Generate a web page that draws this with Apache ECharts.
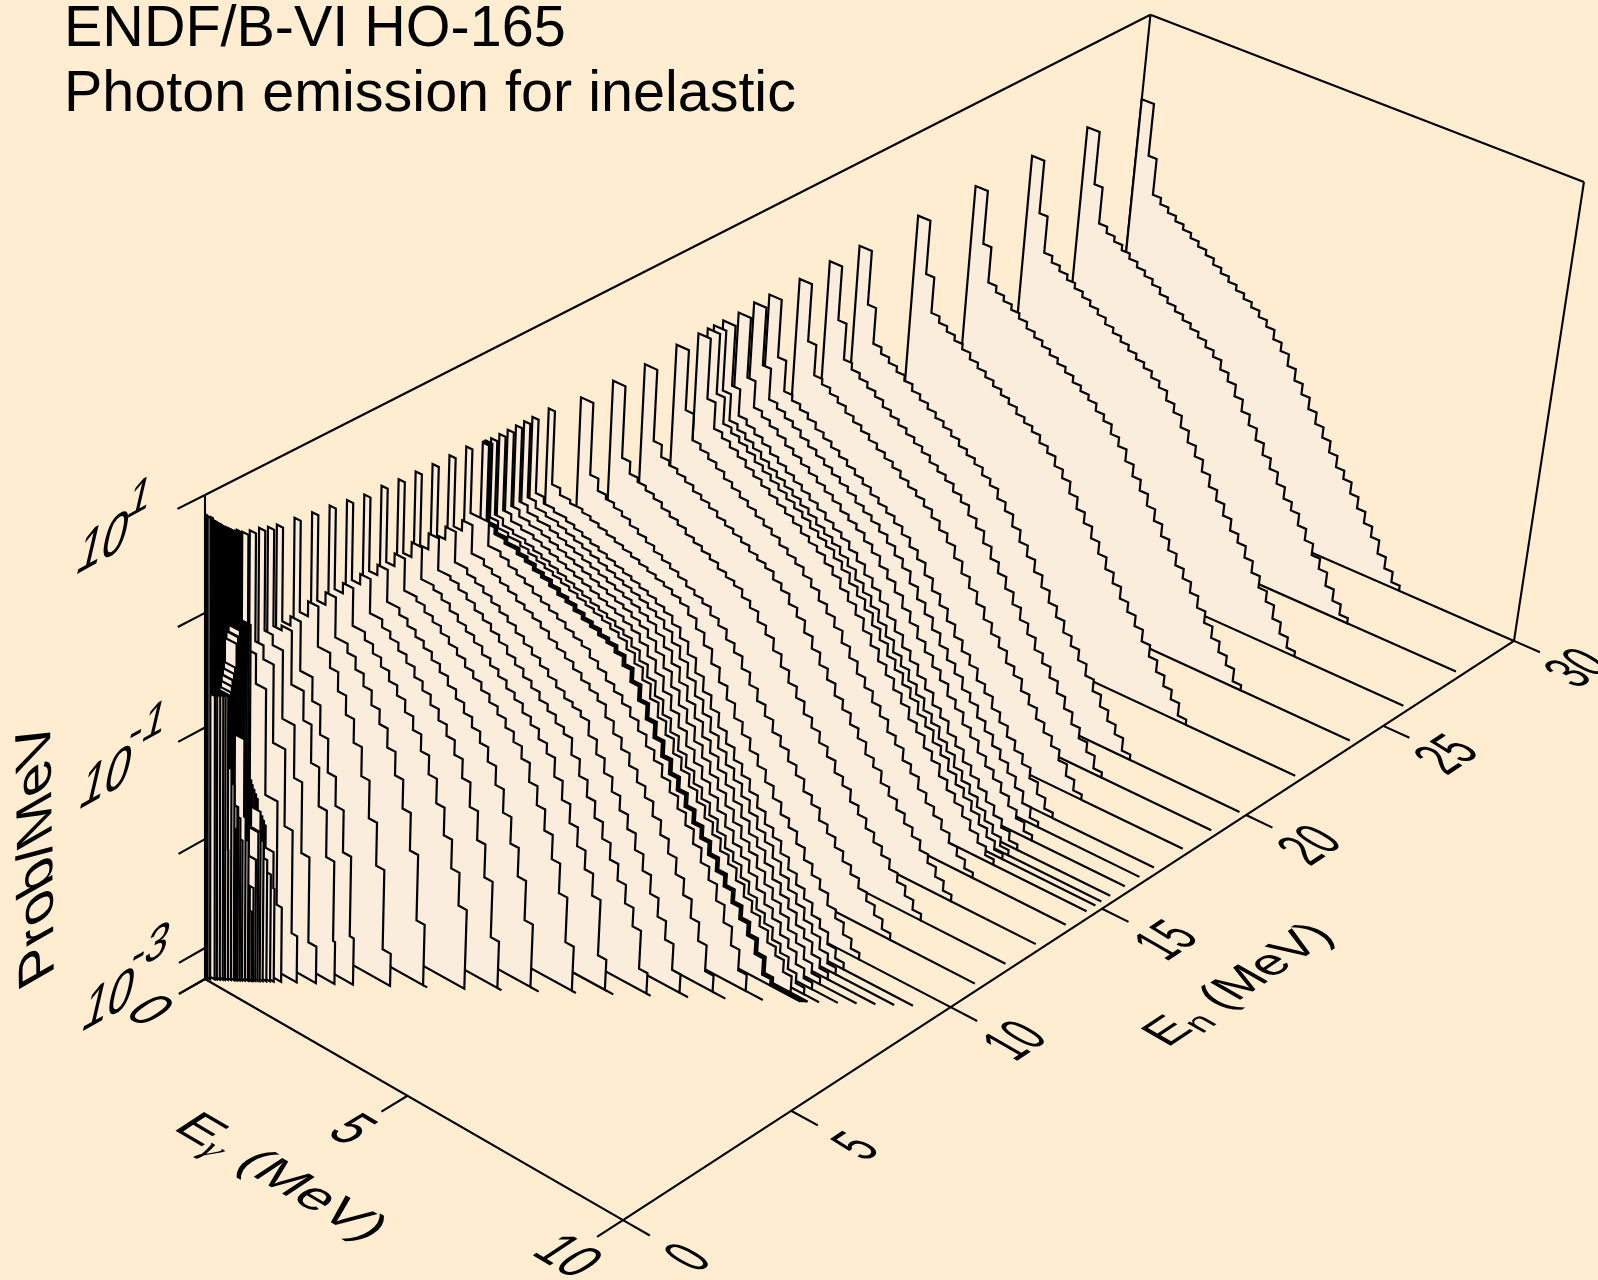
<!DOCTYPE html>
<html><head><meta charset="utf-8">
<style>html,body{margin:0;padding:0;background:#FFEDD1}#c{width:1598px;height:1280px}</style>
<script src="https://cdn.jsdelivr.net/npm/echarts@6/dist/echarts.min.js"></script>
</head><body><div id="c"></div>
<script>
// Photon energy bin edges (MeV): above about 10 MeV, and at or below it, and below 1 MeV
const binEdges=[0,.3,.5,.7,.9,1.1,1.3,1.5,1.7,1.9,2.1,2.3,2.5,2.7,2.9,3.1,3.3,3.5,3.7,3.9,4.1,4.3,4.5,4.7,4.9,5.1,5.3,5.5,5.7,5.9,6.1,6.3,6.5,6.7,6.9,7.1,7.3,7.5,7.7,7.9];
const midEdges=[0,.15,.35,.6,.9,1.1,1.3,1.5,1.7,1.9,2.1,2.3,2.5,2.7,2.9,3.1,3.3,3.5,3.7,3.9,4.1,4.3,4.5,4.7,4.9,5.1,5.3,5.5,5.7,5.9,6.1,6.3,6.5,6.7,6.9,7.1,7.3,7.5,7.7,7.9];
const lowEdges=[0,.05,.3,.5,.7,.9,1.1];
// log10(Prob/MeV) x 100, read bin by bin
const s30=[26,-23,-57,-63,-68,-73,-78,-83,-88,-93,-99,-104,-109,-114,-119,-124,-130,-136,-145,-153,-164,-175,-185,-196,-207,-217,-228,-239,-247,-258,-269,-280,-290,-303,-314,-324];
const s22=[25,-24,-57,-63,-68,-73,-78,-84,-89,-94,-99,-104,-109,-115,-120,-125,-132,-138,-147,-155,-166,-177,-187,-198,-209,-220,-230,-241,-250,-260,-271,-282,-293,-303,-312,-324];
const s18=[23,-29,-57,-62,-67,-72,-78,-83,-88,-93,-98,-103,-108,-114,-119,-124,-130,-137,-145,-153,-164,-175,-185,-196,-207,-217,-226,-237,-245,-256,-265,-275,-284,-293,-303,-314,-324];
const s15=[21,-33,-57,-62,-67,-72,-78,-83,-88,-93,-98,-103,-108,-114,-119,-124,-131,-138,-147,-155,-164,-175,-185,-196,-205,-215,-224,-235,-243,-254,-262,-273,-282,-290,-299,-308,-316,-324];
const s12=[18,-46,-57,-61,-65,-69,-74,-78,-82,-87,-91,-95,-99,-104,-108,-112,-119,-125,-134,-142,-153,-164,-175,-185,-196,-205,-215,-224,-235,-243,-254,-262,-271,-280,-288,-297,-305,-314,-323];
const s9=[23,-42,-48,-51,-54,-57,-60,-63,-66,-69,-72,-75,-78,-81,-84,-88,-92,-99,-108,-119,-132,-145,-157,-170,-181,-192,-202,-213,-224,-235,-243,-254,-265,-275,-284,-295,-303,-314,-323];
const s8=[23,-46,-52,-56,-60,-63,-67,-70,-74,-78,-81,-85,-89,-92,-96,-99,-104,-112,-123,-136,-149,-162,-175,-187,-198,-209,-220,-230,-241,-252,-262,-273,-284,-295,-308,-323];
const e75=[27,-29,-29,-50,-54,-59,-63,-67,-72,-76,-80,-84,-89,-93,-97,-104,-110,-117,-123,-130,-138,-147,-157,-166,-177,-187,-198,-209,-222,-235,-247,-262,-278,-295,-314];
const e70=[27,-33,-24,-49,-54,-58,-62,-66,-71,-75,-79,-84,-90,-95,-100,-106,-112,-117,-123,-134,-145,-155,-166,-177,-187,-200,-213,-226,-241,-256,-273,-290,-314];
const e65=[27,-33,-22,-49,-54,-58,-63,-68,-73,-78,-84,-90,-96,-102,-108,-114,-120,-124,-129,-142,-155,-168,-181,-194,-207,-222,-237,-254,-271,-288,-312];
const e60=[28,-34,-20,-48,-51,-56,-61,-67,-72,-78,-84,-91,-97,-104,-110,-117,-123,-130,-136,-151,-166,-181,-196,-211,-226,-241,-258,-275,-310];
const e55=[29,-33,-20,-48,-52,-57,-63,-69,-74,-80,-87,-93,-99,-106,-112,-120,-127,-136,-145,-162,-179,-196,-213,-230,-250,-301];
const e50=[31,-33,-22,-50,-54,-60,-65,-71,-77,-83,-90,-96,-103,-110,-117,-125,-134,-145,-162,-179,-198,-220,-247,-288];
const e45=[31,-33,-24,-52,-58,-64,-70,-76,-83,-90,-98,-106,-115,-124,-134,-147,-164,-185,-209,-235,-271];
const e40=[34,-33,-24,-54,-61,-67,-74,-81,-90,-98,-107,-117,-127,-140,-157,-179,-205,-235,-286];
const e35=[37,-33,-24,-57,-64,-72,-80,-89,-98,-109,-121,-136,-153,-175,-200,-226,-256];
const e30=[39,-35,-24,-59,-67,-78,-89,-102,-115,-132,-153,-179,-213,-273];
const e25=[42,-37,-24,-59,-72,-89,-106,-127,-153,-187,-226,-299];
const e20=[44,-37,-29,-72,-93,-119,-149,-175,-213,-286];
const e175=[46,-37,-33,-80,-106,-140,-175,-217,-290];
const e15=[49,-37,-46,-106,-153,-217,-295];
const e124=[51,-42,-54,-123,-192,-286];
const e103=[53,-46,-72,-166,-260];
// [neutron energy (MeV), values, number of bins, edges]
const curves=[
[30,s30,36],[28,s30,36],[26,s30,36],[24,s22,36],[22,s22,36],[20,s22,36],[19,s22,36],
[18,s18,37],[17,s18,37],[16.5,s18,37],[16,s15,38],[15.5,s15,38],[15.2,s15,38],[15,s15,38],[14.7,s15,38],[14,s15,38],
[13,s12,39],[12,s12,39],[11,s12,39],[10,s9,39,midEdges],[9.5,s9,39,midEdges],[9.25,s9,39,midEdges],[9,s9,39,midEdges],[8.75,s9,39,midEdges],[8.5,s9,39,midEdges],[8.25,s9,39,midEdges],[8.1,s9,38,midEdges],
[8.08,s8,36,midEdges],[8.06,s8,36,midEdges],[8.04,s8,36,midEdges],[8.02,s8,36,midEdges],[8,s8,36,midEdges],
[7.5,e75,35,midEdges],[7,e70,33,midEdges],[6.5,e65,31,midEdges],[6,e60,29,midEdges],[5.5,e55,26,midEdges],[5,e50,24,midEdges],[4.5,e45,21,midEdges],[4,e40,19,midEdges],[3.5,e35,17,midEdges],[3,e30,14,midEdges],[2.5,e25,12,midEdges],[2,e20,10,midEdges],[1.75,e175,9,midEdges],[1.5,e15,7,midEdges],[1.24,e124,6,midEdges],[1.03,e103,5,midEdges],
[.93,[55,-20,-170,-190,-210,-243],6,lowEdges],[.88,[57,-20,-165,-185,-230],5,lowEdges],[.83,[57,-20,-160,-180,-217],5,lowEdges],[.78,[57,-20,-155,-175,-200],5,lowEdges],
[.74,[59,-20,-150,-192],4,lowEdges],[.71,[59,-20,-150,-192],4,lowEdges],[.68,[61,-20,-145,-217],4,lowEdges],[.65,[61,-20,-140,-243],4,lowEdges],[.63,[61,-20,-135,-265],4,lowEdges],[.6,[62,-25,-130,-243],4,lowEdges],[.58,[64,-25,-120,-200],4,lowEdges],[.54,[64,-30,-110,-179],4,lowEdges],
[.5,[66,-50,-200],3,lowEdges],[.47,[66,-55,-180],3,lowEdges],[.44,[68,-60,-170],3,lowEdges],[.43,[68,-60,-170],3,lowEdges],[.41,[68,-65,-190],3,lowEdges],[.39,[70,-70,-150],3,lowEdges],[.35,[70,-72,-136],3,lowEdges],[.31,[72,-72,-209],3,lowEdges],
[.27,[74,-72],2,lowEdges],[.24,[74,-72],2,lowEdges],[.2,[76,-72],2,lowEdges],[.16,[79,-72],2,lowEdges],[.13,[79,-72],2,lowEdges],[.07,[81],1,[0,.07]],[.03,[83],1,[0,.03]]
];
const enTicks=[0,5,10,15,20,25,30];
const egTicks=[0,5,10];
const probTicks=[-3,-2,-1,0,1];
const probTickLabels=[['10','-3',-3],['10','-1',-1],['10','1',1]];

const logMin=-3.29, logMax=1, egMax=10, enMax=30;
function project(eg,en,lg){
  const u=eg/egMax,v=en/enMax,t=(lg-logMin)/(logMax-logMin);
  const w=1-.0607*u+.1529*v-.0554*t;
  return [(205+380.2*u+1068.4*v-11.36*t)/w,(979+167*u-446*v-511.4*t)/w];
}
const INK='#000', FILL='#FAEDDC', BG='#FFEDD1';
const backTop=logMax+.045;
const frameLines=[
 [[0,0,logMin],[egMax,0,logMin]],[[egMax,0,logMin],[egMax,enMax,logMin]],
 [[0,0,logMin],[0,0,logMax]],[[0,0,logMax],[0,enMax,backTop]],
 [[0,enMax,backTop],[egMax,enMax,logMax]],[[egMax,enMax,logMax],[egMax,enMax,logMin]],
 [[0,enMax,backTop],[0,enMax,logMin]],[[0,0,logMin],[0,enMax,logMin]]
];
enTicks.forEach(e=>frameLines.push([[egMax,e,logMin],[egMax*1.06,e,logMin]]));
egTicks.forEach(g=>frameLines.push([[g,0,logMin],[g,-.75,logMin]]));
probTicks.concat([logMin]).forEach(p=>frameLines.push([[0,0,p],[0,-.75,p]]));

function svd(ex,ey){ // text x direction ex, text up direction ey
  const a=ex[0],b=-ey[0],c=ex[1],d=-ey[1];
  const E=(a+d)/2,F=(a-d)/2,G=(c+b)/2,H=(c-b)/2;
  const Q=Math.hypot(E,H),R=Math.hypot(F,G);
  const a1=Math.atan2(G,F),a2=Math.atan2(H,E);
  return {s1:Q+R,s2:Q-R,outer:-(a2+a1)/2,inner:-(a2-a1)/2};
}
function skewText(p,ex,ey,parts){
  const m=svd(ex,ey);
  return {type:'group',x:p[0],y:p[1],rotation:m.outer,scaleX:m.s1,scaleY:m.s2,silent:true,children:[
    {type:'group',rotation:m.inner,children:parts.map(q=>({type:'text',x:q.x||0,y:q.y||0,silent:true,style:{
      text:q.t,font:(q.italic?'italic ':'')+q.size+'px '+(q.family||'"Liberation Sans"'),fill:INK,
      textAlign:q.align||'center',textVerticalAlign:'middle'}}))}
  ]};
}
const floorV=[.83,-.55], floorU=[.86,.51], upU=[-.87,-.5];
const wallX=[.97,-.53], wallY=[.31,-1.34];
const expX=[.9,-.49], expY=[.26,-1.12];
const labels=[];
enTicks.forEach(e=>labels.push({at:[egMax*1.15,e,logMin],ex:[floorV[0]*.95,floorV[1]*.95],ey:[upU[0]*1.55,upU[1]*1.55],parts:[{t:String(e),size:40}]}));
egTicks.forEach(g=>labels.push({at:[g,-1.65,logMin],ex:[floorU[0]*1.15,floorU[1]*1.15],ey:[floorV[0]*1.5,floorV[1]*1.5],parts:[{t:String(g),size:40}]}));
probTickLabels.forEach(l=>{
  labels.push({at:[0,-3,l[2]],off:[9,-6],ex:wallX,ey:wallY,parts:[{t:l[0],size:46}]});
  labels.push({at:[0,-3,l[2]],off:[l[1]=='1'?46:51,l[1]=='1'?-52:-59],ex:expX,ey:expY,parts:[{t:l[1],size:46}]});
});
labels.push({px:[1240,985],ex:[.83,-.55],ey:[-.87,-.5],parts:[{t:'E',size:50,align:'left',x:-102},{t:'n',size:36,align:'left',x:-69,y:12},{t:' (MeV)',size:50,align:'left',x:-49}]});
labels.push({px:[280,1178],ex:[.97,.57],ey:[.83,-.55],parts:[{t:'E',size:50,align:'left',x:-100},{t:'\u03B3',size:36,align:'left',x:-67,y:12,italic:true,family:'"Liberation Serif"'},{t:' (MeV)',size:50,align:'left',x:-50}]});
labels.push({px:[38,853],ex:[-.015,-1],ey:[-.87,.5],parts:[{t:'Prob/MeV',size:58}]});

const chart=echarts.init(document.getElementById('c'),null,{renderer:'canvas'});
function frameItem(p,api){
  const l=frameLines[api.value(0)];
  const a=api.coord(project(...l[0])),b=api.coord(project(...l[1]));
  return {type:'line',shape:{x1:a[0],y1:a[1],x2:b[0],y2:b[1]},style:{stroke:INK,lineWidth:2.1},silent:true};
}
function curveItem(p,api){
  const c=curves[api.value(0)],en=c[0],vals=c[1],n=c[2],edges=c[3]||binEdges;
  const P=(g,l)=>api.coord(project(g,en,l));
  const pts=[P(0,logMin)];
  let end=0;
  for(let i=0;i<n;i++){
    const a=Math.min(edges[i],en),b=i==n-1&&en<1?en:Math.min(edges[i+1],en),l=vals[i]/100;
    pts.push(P(a,l),P(b,l));end=b;
  }
  pts.push(P(end,logMin));
  const tail=en>=30?10:Math.min(en,en==10?10:9.85);
  const kids=[{type:'polygon',shape:{points:pts},style:{fill:FILL,stroke:INK,lineWidth:2.2,lineJoin:'miter'},silent:true}];
  if(tail>end) {const a=P(end,logMin),b=P(tail,logMin);
    kids.push({type:'line',shape:{x1:a[0],y1:a[1],x2:b[0],y2:b[1]},style:{stroke:INK,lineWidth:2.2},silent:true});}
  return {type:'group',children:kids,silent:true};
}
function labelItem(p,api){
  const l=labels[api.value(0)];
  let c=l.px?api.coord(l.px):api.coord(project(...l.at));
  if(l.off) c=[c[0]+l.off[0],c[1]+l.off[1]];
  return skewText(c,l.ex,l.ey,l.parts);
}
const idx=a=>a.map((_,i)=>[i,0]);
chart.setOption({
  backgroundColor:BG,animation:false,
  title:[
    {text:'ENDF/B-VI HO-165',left:59,top:-4,textStyle:{fontFamily:'Liberation Sans',fontSize:57.5,fontWeight:'normal',color:INK}},
    {text:'Photon emission for inelastic',left:59,top:61,textStyle:{fontFamily:'Liberation Sans',fontSize:57.5,fontWeight:'normal',color:INK}}
  ],
  grid:{left:0,right:0,top:0,bottom:0},
  xAxis:{type:'value',min:0,max:1598,show:false},
  yAxis:{type:'value',min:0,max:1280,inverse:true,show:false},
  tooltip:{show:false},
  series:[
    {type:'custom',z:1,clip:false,silent:true,data:idx(frameLines),renderItem:frameItem,encode:{x:0,y:1}},
    {type:'custom',z:2,clip:false,silent:true,data:idx(curves),renderItem:curveItem,encode:{x:0,y:1}},
    {type:'custom',z:3,clip:false,silent:true,data:idx(labels),renderItem:labelItem,encode:{x:0,y:1}}
  ]
});
</script></body></html>
